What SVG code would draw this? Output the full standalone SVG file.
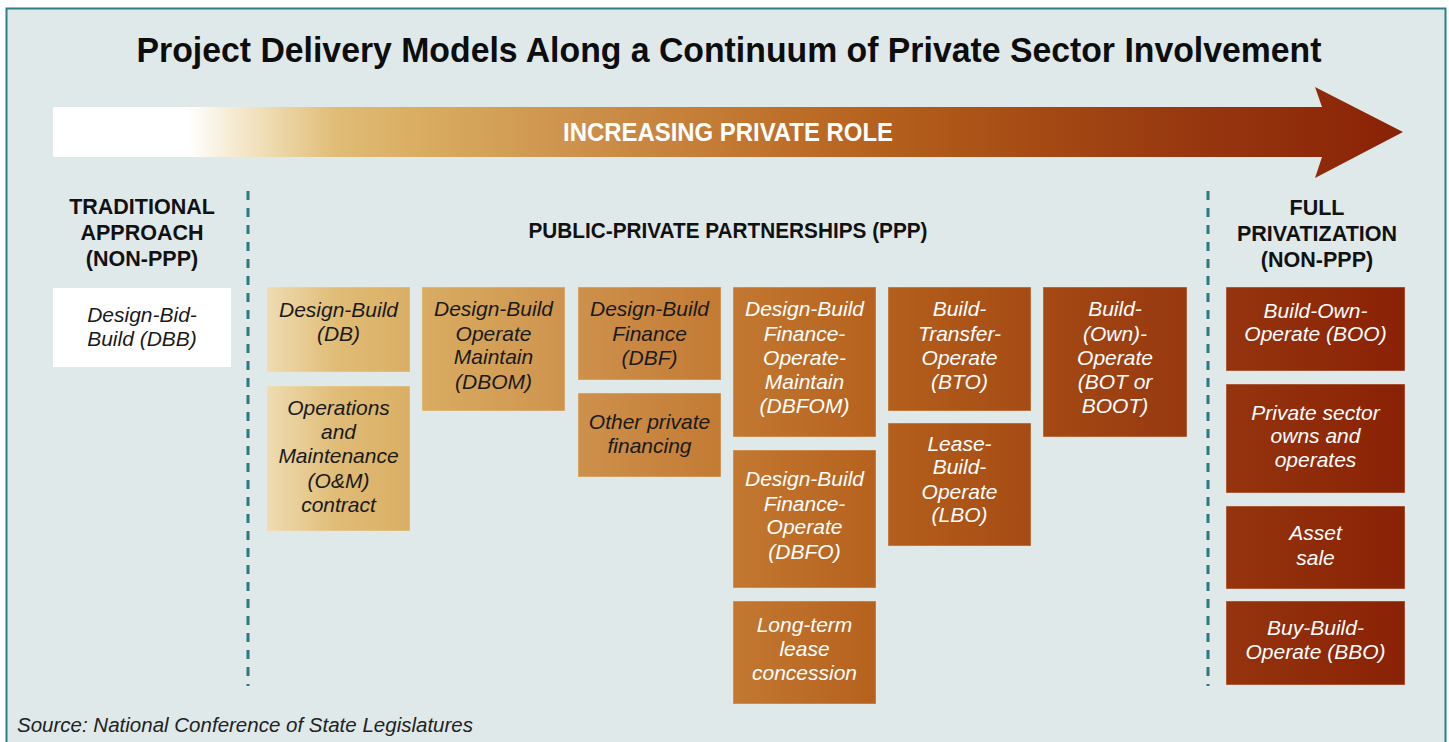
<svg xmlns="http://www.w3.org/2000/svg" width="1449" height="742" viewBox="0 0 1449 742">
  <defs>
    <linearGradient id="g" gradientUnits="userSpaceOnUse" x1="53" y1="0" x2="1403" y2="0">
      <stop offset="0" stop-color="#ffffff"/>
      <stop offset="0.10" stop-color="#ffffff"/>
      <stop offset="0.16" stop-color="#eedbb0"/>
      <stop offset="0.21" stop-color="#e0bc76"/>
      <stop offset="0.27" stop-color="#d9ad62"/>
      <stop offset="0.39" stop-color="#cd914c"/>
      <stop offset="0.50" stop-color="#c37932"/>
      <stop offset="0.61" stop-color="#b5611d"/>
      <stop offset="0.73" stop-color="#a54a14"/>
      <stop offset="0.84" stop-color="#973810"/>
      <stop offset="1" stop-color="#8a2205"/>
    </linearGradient>
    <style>
      .hdr{font-family:"Liberation Sans",Arial,sans-serif;font-weight:bold;font-size:21.5px;fill:#111;text-anchor:middle}
      .box{fill:url(#g);stroke:#f3e2c8;stroke-opacity:0.45;stroke-width:1}
      .t{font-family:"Liberation Sans",Arial,sans-serif;font-style:italic;font-size:21px;text-anchor:middle}
      .dk{fill:#1a1a1a}
      .wt{fill:#ffffff}
      .dash{stroke:#2a7a80;stroke-width:3;stroke-dasharray:9 8;fill:none}
    </style>
  </defs>
  <rect x="0" y="0" width="1449" height="742" fill="#ffffff"/>
  <rect x="6.5" y="8.5" width="1439" height="760" fill="#e0e9ea" stroke="#2e7f86" stroke-width="2"/>

  <text x="729" y="62" font-family="Liberation Sans, Arial, sans-serif" font-weight="bold" font-size="35" fill="#0d0d0d" text-anchor="middle" textLength="1185" lengthAdjust="spacingAndGlyphs">Project Delivery Models Along a Continuum of Private Sector Involvement</text>

  <g id="arrow">
    <polygon points="53,107 1322,107 1315,87 1403,132 1315,178 1322,157 53,157" fill="url(#g)"/>
    <text x="728" y="141" font-family="Liberation Sans, Arial, sans-serif" font-weight="bold" font-size="25" fill="#ffffff" text-anchor="middle" textLength="330" lengthAdjust="spacingAndGlyphs">INCREASING PRIVATE ROLE</text>
  </g>

  <g id="connectors">
    <line class="dash" x1="248" y1="191" x2="248" y2="686"/>
    <line class="dash" x1="1208" y1="191" x2="1208" y2="686"/>
  </g>

  <g id="hdr-traditional">
    <text class="hdr" x="142" y="214">TRADITIONAL</text>
    <text class="hdr" x="142" y="240">APPROACH</text>
    <text class="hdr" x="142" y="266">(NON-PPP)</text>
  </g>
  <g id="hdr-ppp">
    <text class="hdr" x="728" y="238" textLength="399" lengthAdjust="spacingAndGlyphs">PUBLIC-PRIVATE PARTNERSHIPS (PPP)</text>
  </g>
  <g id="hdr-full">
    <text class="hdr" x="1317" y="215">FULL</text>
    <text class="hdr" x="1317" y="241">PRIVATIZATION</text>
    <text class="hdr" x="1317" y="267">(NON-PPP)</text>
  </g>

  <g id="dbb">
    <rect x="53" y="288" width="178" height="79" fill="#ffffff"/>
    <text class="t dk" x="142" y="322">Design-Bid-</text>
    <text class="t dk" x="142" y="346">Build (DBB)</text>
  </g>
  <g id="db">
    <rect class="box" x="267" y="287" width="143" height="85"/>
    <text class="t dk" x="338.5" y="317">Design-Build</text>
    <text class="t dk" x="338.5" y="341">(DB)</text>
  </g>
  <g id="om">
    <rect class="box" x="267" y="386" width="143" height="145"/>
    <text class="t dk" x="338.5" y="415">Operations</text>
    <text class="t dk" x="338.5" y="439">and</text>
    <text class="t dk" x="338.5" y="463">Maintenance</text>
    <text class="t dk" x="338.5" y="488">(O&amp;M)</text>
    <text class="t dk" x="338.5" y="512">contract</text>
  </g>
  <g id="dbom">
    <rect class="box" x="422" y="287" width="143" height="124"/>
    <text class="t dk" x="493.5" y="316">Design-Build</text>
    <text class="t dk" x="493.5" y="341">Operate</text>
    <text class="t dk" x="493.5" y="364">Maintain</text>
    <text class="t dk" x="493.5" y="389">(DBOM)</text>
  </g>
  <g id="dbf">
    <rect class="box" x="578" y="287" width="143" height="93"/>
    <text class="t dk" x="649.5" y="316">Design-Build</text>
    <text class="t dk" x="649.5" y="341">Finance</text>
    <text class="t dk" x="649.5" y="365">(DBF)</text>
  </g>
  <g id="other-financing">
    <rect class="box" x="578" y="393" width="143" height="84"/>
    <text class="t dk" x="649.5" y="429">Other private</text>
    <text class="t dk" x="649.5" y="453">financing</text>
  </g>
  <g id="dbfom">
    <rect class="box" x="733" y="287" width="143" height="150"/>
    <text class="t wt" x="804.5" y="316">Design-Build</text>
    <text class="t wt" x="804.5" y="341">Finance-</text>
    <text class="t wt" x="804.5" y="365">Operate-</text>
    <text class="t wt" x="804.5" y="389">Maintain</text>
    <text class="t wt" x="804.5" y="413">(DBFOM)</text>
  </g>
  <g id="dbfo">
    <rect class="box" x="733" y="450" width="143" height="138"/>
    <text class="t wt" x="804.5" y="486">Design-Build</text>
    <text class="t wt" x="804.5" y="511">Finance-</text>
    <text class="t wt" x="804.5" y="534">Operate</text>
    <text class="t wt" x="804.5" y="559">(DBFO)</text>
  </g>
  <g id="long-term-lease">
    <rect class="box" x="733" y="601" width="143" height="103"/>
    <text class="t wt" x="804.5" y="632">Long-term</text>
    <text class="t wt" x="804.5" y="656">lease</text>
    <text class="t wt" x="804.5" y="680">concession</text>
  </g>
  <g id="bto">
    <rect class="box" x="888" y="287" width="143" height="124"/>
    <text class="t wt" x="959.5" y="316">Build-</text>
    <text class="t wt" x="959.5" y="341">Transfer-</text>
    <text class="t wt" x="959.5" y="365">Operate</text>
    <text class="t wt" x="959.5" y="389">(BTO)</text>
  </g>
  <g id="lbo">
    <rect class="box" x="888" y="423" width="143" height="123"/>
    <text class="t wt" x="959.5" y="451">Lease-</text>
    <text class="t wt" x="959.5" y="474">Build-</text>
    <text class="t wt" x="959.5" y="499">Operate</text>
    <text class="t wt" x="959.5" y="522">(LBO)</text>
  </g>
  <g id="boot">
    <rect class="box" x="1043" y="287" width="144" height="150"/>
    <text class="t wt" x="1115" y="316">Build-</text>
    <text class="t wt" x="1115" y="341">(Own)-</text>
    <text class="t wt" x="1115" y="365">Operate</text>
    <text class="t wt" x="1115" y="389">(BOT or</text>
    <text class="t wt" x="1115" y="413">BOOT)</text>
  </g>
  <g id="boo">
    <rect class="box" x="1226" y="287" width="179" height="84"/>
    <text class="t wt" x="1315.5" y="318">Build-Own-</text>
    <text class="t wt" x="1315.5" y="341">Operate (BOO)</text>
  </g>
  <g id="private-sector">
    <rect class="box" x="1226" y="384" width="179" height="109"/>
    <text class="t wt" x="1315.5" y="420">Private sector</text>
    <text class="t wt" x="1315.5" y="443">owns and</text>
    <text class="t wt" x="1315.5" y="467">operates</text>
  </g>
  <g id="asset-sale">
    <rect class="box" x="1226" y="506" width="179" height="83"/>
    <text class="t wt" x="1315.5" y="540">Asset</text>
    <text class="t wt" x="1315.5" y="565">sale</text>
  </g>
  <g id="bbo">
    <rect class="box" x="1226" y="601" width="179" height="84"/>
    <text class="t wt" x="1315.5" y="635">Buy-Build-</text>
    <text class="t wt" x="1315.5" y="659">Operate (BBO)</text>
  </g>

  <text x="17" y="732" font-family="Liberation Sans, Arial, sans-serif" font-style="italic" font-size="20" fill="#222" textLength="456" lengthAdjust="spacingAndGlyphs">Source: National Conference of State Legislatures</text>
</svg>
